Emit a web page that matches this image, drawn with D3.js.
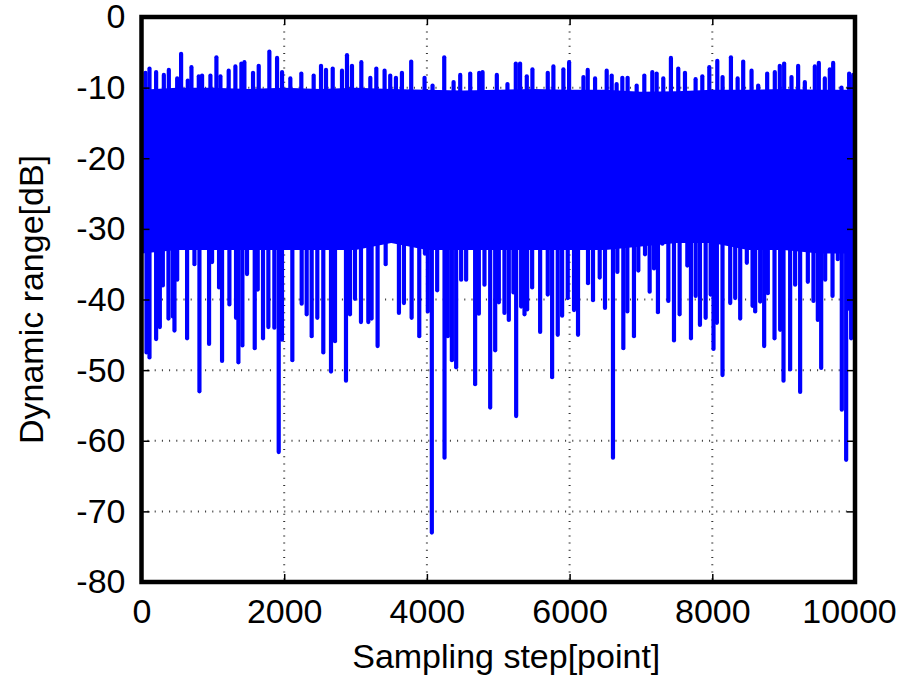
<!DOCTYPE html>
<html>
<head>
<meta charset="utf-8">
<script src="https://cdn.jsdelivr.net/npm/d3@7/dist/d3.min.js"></script>
<style>
body { margin: 0; background: #fff; }
text { font-family: "Liberation Sans", Arial, sans-serif; fill: #000; }
</style>
</head>
<body>
<svg></svg>
<script>
// downward spikes [step, dB]
const dips = [
      [70, -47.5], [112, -48.2], [205, -45.6], [257, -43.9], [299, -38], [378, -42.7], [439, -42.4],
      [462, -44.4], [500, -37.2], [639, -45.5], [742, -35], [812, -53], [947, -46.3], [989, -34.7],
      [1087, -38.3], [1129, -48.7], [1232, -40.7], [1325, -42.6], [1358, -48.9], [1414, -46.5],
      [1479, -36.4], [1587, -46.9], [1629, -38.6], [1703, -45.5], [1778, -43.9], [1862, -44],
      [1923, -61.6], [1969, -45.7], [2114, -48.6], [2245, -40.6], [2315, -42.1], [2385, -45.2],
      [2464, -42.6], [2548, -47.5], [2656, -50.2], [2712, -45.9], [2866, -51.5], [2922, -42.1],
      [2992, -39.9], [3076, -43.2], [3179, -43.2], [3225, -42.7], [3309, -46.6], [3422, -35],
      [3608, -41.9], [3678, -40.5], [3786, -42.6], [3893, -45.2], [3972, -33.5], [4013, -41.7],
      [4069, -73], [4144, -38.7], [4247, -62.4], [4293, -45.2], [4350, -48.6], [4410, -49.6],
      [4480, -37.2], [4550, -37.2], [4676, -52], [4728, -42], [4807, -37.9], [4887, -55.3],
      [4957, -47.2], [5008, -40.4], [5087, -41.9], [5148, -42.9], [5213, -39], [5251, -56.5],
      [5321, -41], [5368, -42.1], [5405, -41.4], [5475, -38.3], [5587, -44.6], [5694, -39.3],
      [5755, -51], [5834, -45], [5895, -42.3], [5974, -39.8], [6062, -41.5], [6118, -45],
      [6258, -37.7], [6328, -40.1], [6422, -36.9], [6496, -41.2], [6608, -62.4], [6669, -36.1],
      [6753, -46.9], [6809, -41.7], [6902, -45.2], [6963, -35.9], [7057, -33.6], [7122, -38.9],
      [7183, -35.6], [7238, -41.8], [7300, -32.1], [7384, -40.2], [7463, -45.8], [7542, -42.1],
      [7650, -35.2], [7701, -45.5], [7767, -39.5], [7827, -43.6], [7907, -42.6], [7977, -39.3],
      [8017, -47], [8064, -43.3], [8143, -50.7], [8251, -40.5], [8321, -39.8], [8391, -42.7],
      [8484, -34.8], [8564, -40.9], [8601, -41.7], [8671, -40.3], [8727, -46.6], [8778, -39.1],
      [8872, -45.5], [8951, -44.3], [8998, -51.5], [9091, -49.9], [9161, -37.9], [9231, -53.1],
      [9339, -37.5], [9418, -40.2], [9479, -42.9], [9526, -49.7], [9582, -37.2], [9685, -39.5],
      [9759, -34.3], [9815, -55.6], [9876, -62.7], [9909, -41.3], [9946, -45.5]]

// upward spikes [step, dB]
const peaks = [
      [56, -7.9], [112, -7.3], [205, -7.8], [313, -8.2], [383, -7.5], [500, -8.7], [555, -5.2],
      [649, -9], [700, -7.1], [803, -8.4], [849, -8.3], [966, -8.3], [1050, -5.7], [1106, -8.4],
      [1222, -7.6], [1316, -7], [1400, -6.6], [1442, -6.4], [1563, -7.9], [1643, -6.9],
      [1792, -4.9], [1900, -5.8], [1970, -7.8], [2086, -8.7], [2240, -8], [2413, -8.3],
      [2516, -6.9], [2586, -7.5], [2680, -7.3], [2810, -7.6], [2880, -5.4], [2950, -6.9],
      [3081, -6.4], [3207, -8.6], [3291, -7.3], [3407, -7.6], [3486, -8.3], [3566, -8.6],
      [3650, -7.9], [3780, -6.3], [3967, -8.6], [4079, -9.7], [4243, -5.7], [4374, -9.2],
      [4467, -8.2], [4607, -8], [4733, -7.9], [4780, -7.8], [4980, -8.2], [5129, -9.5],
      [5246, -6.6], [5306, -6.6], [5400, -8.4], [5479, -7.4], [5694, -7.9], [5773, -7],
      [5913, -7.4], [5993, -6.4], [6194, -8.5], [6254, -7.5], [6357, -8.7], [6520, -7.6],
      [6590, -8.3], [6659, -9.5], [6739, -8.6], [6813, -8.6], [6940, -9.7], [7047, -8.3],
      [7159, -7.8], [7220, -8], [7313, -8.7], [7420, -5.8], [7523, -7.3], [7617, -7.9],
      [7766, -8.8], [7860, -8.4], [7958, -7.1], [8070, -6.2], [8144, -8.5], [8261, -5.7],
      [8355, -8.7], [8433, -6.3], [8550, -7.6], [8643, -9.7], [8769, -8], [8876, -7.8],
      [8946, -6.9], [9007, -6.6], [9110, -8.5], [9203, -6.9], [9297, -9.2], [9437, -7],
      [9493, -6.5], [9577, -8.7], [9647, -7.4], [9694, -6.5], [9811, -10], [9918, -8], [9974, -8.2]]

// the dense part of the trace, upper and lower edge
const coreSteps = [0, 500, 1000, 1500, 2000, 2500, 3000, 3500, 4000, 4500, 5000,
      5500, 6000, 6500, 7000, 7500, 8000, 8500, 9000, 9500, 10000]
const coreTop = [-10.3, -10, -10, -10.2, -10, -10.2, -10, -10.2, -10.3, -10.4, -10.3,
      -10.2, -10.3, -10.3, -10.6, -10.5, -10.3, -10.3, -10.2, -10.3, -10.3]
const coreBottom = [-33.5, -33, -33, -33, -33, -33, -33, -32, -33, -33, -33,
      -33, -33, -33, -32.5, -32, -32, -33, -33, -33.5, -33.5]

const xTicks = [0, 2000, 4000, 6000, 8000, 10000]
const yTicks = [0, -10, -20, -30, -40, -50, -60, -70, -80]
const xGrid = [2000, 4000, 6000, 8000]
const yGrid = [-10, -20, -30, -40, -50, -60, -70]

const width = 899
const height = 680

const svg = d3.select("svg")
      .attr("width", width)
      .attr("height", height)

const x = d3.scaleLinear().domain([0, 10000]).range([141.5, 855])
const y = d3.scaleLinear().domain([-80, 0]).range([582, 17])

// dotted grid
svg.append("g")
      .attr("stroke", "#333")
      .attr("stroke-width", 2)
      .attr("stroke-dasharray", "1,6.2")
      .selectAll("line")
      .data(yGrid)
      .join("line")
      .attr("x1", x(0) + 6)
      .attr("x2", x(10000))
      .attr("y1", d => y(d))
      .attr("y2", d => y(d))

svg.append("g")
      .attr("stroke", "#333")
      .attr("stroke-width", 2)
      .attr("stroke-dasharray", "1,6.2")
      .selectAll("line")
      .data(xGrid)
      .join("line")
      .attr("x1", d => x(d))
      .attr("x2", d => x(d))
      .attr("y1", y(0))
      .attr("y2", y(-80))

const plot = svg.append("g")

const core = coreSteps.map((s, i) => ({ s, top: coreTop[i], bottom: coreBottom[i] }))

plot.append("path")
      .datum(core)
      .attr("fill", "#0000ff")
      .attr("d", d3.area()
            .x(d => x(d.s))
            .y0(d => y(d.bottom))
            .y1(d => y(d.top)))

plot.append("g")
      .attr("stroke", "#0000ff")
      .attr("stroke-width", 4.2)
      .attr("stroke-linecap", "round")
      .selectAll("line")
      .data(dips)
      .join("line")
      .attr("x1", d => x(d[0]))
      .attr("x2", d => x(d[0]))
      .attr("y1", y(-28))
      .attr("y2", d => y(d[1]))

plot.append("g")
      .attr("stroke", "#0000ff")
      .attr("stroke-width", 4.2)
      .attr("stroke-linecap", "round")
      .selectAll("line")
      .data(peaks)
      .join("line")
      .attr("x1", d => x(d[0]))
      .attr("x2", d => x(d[0]))
      .attr("y1", y(-12))
      .attr("y2", d => y(d[1]))

// axes, gnuplot style: inward ticks on all four sides
const fontSize = 34

svg.append("g")
      .attr("transform", `translate(${x(0)},0)`)
      .call(d3.axisLeft(y).tickValues(yTicks).tickSize(-8).tickPadding(16).tickFormat(d => String(d)))
      .call(g => g.select(".domain").remove())
      .call(g => g.selectAll("text").attr("font-size", fontSize).attr("font-family", null))
      .call(g => g.selectAll("line").attr("stroke-width", 1.5))

svg.append("g")
      .attr("transform", `translate(${x(10000)},0)`)
      .call(d3.axisRight(y).tickValues(yTicks).tickSize(-8).tickFormat(""))
      .call(g => g.select(".domain").remove())
      .call(g => g.selectAll("line").attr("stroke-width", 1.5))

svg.append("g")
      .attr("transform", `translate(0,${y(-80)})`)
      .call(d3.axisBottom(x).tickValues(xTicks).tickSize(-8).tickPadding(17).tickFormat(d => String(d)))
      .call(g => g.select(".domain").remove())
      .call(g => g.selectAll("text").attr("font-size", fontSize).attr("font-family", null))
      .call(g => g.selectAll("line").attr("stroke-width", 1.5))
      .call(g => g.selectAll("text").filter(d => d === 10000).attr("dx", -6))

svg.append("g")
      .attr("transform", `translate(0,${y(0)})`)
      .call(d3.axisTop(x).tickValues(xTicks).tickSize(-8).tickFormat(""))
      .call(g => g.select(".domain").remove())
      .call(g => g.selectAll("line").attr("stroke-width", 1.5))

svg.append("rect")
      .attr("x", x(0))
      .attr("y", y(0))
      .attr("width", x(10000) - x(0))
      .attr("height", y(-80) - y(0))
      .attr("fill", "none")
      .attr("stroke", "#000")
      .attr("stroke-width", 4.5)

svg.append("text")
      .attr("x", (x(0) + x(10000)) / 2 + 8)
      .attr("y", 668)
      .attr("text-anchor", "middle")
      .attr("font-size", 34)
      .text("Sampling step[point]")

svg.append("text")
      .attr("transform", `translate(43,${(y(0) + y(-80)) / 2}) rotate(-90)`)
      .attr("text-anchor", "middle")
      .attr("font-size", 34)
      .text("Dynamic range[dB]")
</script>
</body>
</html>
